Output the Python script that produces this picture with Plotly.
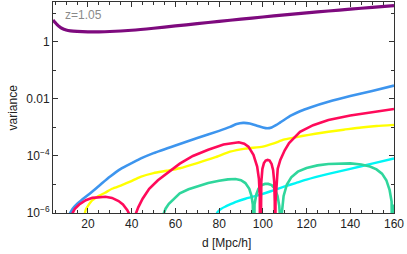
import plotly.graph_objects as go

# ---- data (x in Mpc/h, values given as log10(variance)) ----
purple_x = [4, 5, 6, 7, 8, 10, 12, 15, 20, 25, 30, 40, 50, 60, 70, 80, 90, 100, 110, 120, 130, 140, 150, 160]
purple_log = [0.77, 0.68, 0.6, 0.53, 0.48, 0.42, 0.39, 0.37, 0.355, 0.355, 0.365, 0.41, 0.48, 0.56, 0.64, 0.72,
              0.80, 0.875, 0.95, 1.02, 1.085, 1.15, 1.21, 1.27]

blue_x = [11.5, 13, 15, 17, 20, 25, 30, 35, 40, 45, 50, 60, 70, 80, 85, 88, 91, 94, 97, 100, 102, 104, 106,
          108, 110, 113, 117, 122, 130, 140, 150, 160]
blue_log = [-6.05, -5.85, -5.68, -5.55, -5.37, -5.05, -4.73, -4.45, -4.25, -4.06, -3.9, -3.63, -3.37, -3.12,
            -2.98, -2.88, -2.84, -2.86, -2.93, -3.0, -3.03, -3.0, -2.92, -2.82, -2.72, -2.58, -2.43, -2.29,
            -2.1, -1.9, -1.72, -1.53]

magenta_x = [12.3, 14, 16, 19, 22, 25, 28, 31, 34, 36, 38, 39.3, 39.9, 40.4, 40.9, 41.5, 43, 45, 48, 52, 57,
             62, 68, 75, 82, 86, 89, 91.5, 93.4, 95.7, 97.4, 98.2, 98.6, 98.8, 99.0, 99.3, 99.8, 100.5, 101.3,
             102.2, 103.1, 104.0, 104.7, 105.2, 105.45, 105.6, 105.8, 106.2, 106.8, 108, 110, 112, 117, 123,
             130, 140, 150, 160]
magenta_log = [-6.1, -5.85, -5.7, -5.55, -5.47, -5.44, -5.43, -5.47, -5.58, -5.7, -5.9, -6.1, -6.5, -9, -6.5,
               -6.1, -5.8, -5.5, -5.15, -4.85, -4.55, -4.27, -4.0, -3.78, -3.6, -3.54, -3.52, -3.57, -3.67,
               -3.96, -4.37, -4.8, -5.4, -9, -5.4, -4.9, -4.45, -4.25, -4.16, -4.14, -4.16, -4.28, -4.5,
               -4.9, -5.6, -9, -5.6, -4.9, -4.45, -4.14, -3.8, -3.55, -3.15, -2.92, -2.74, -2.58, -2.46, -2.35]

yellow_x = [18.3, 19, 20, 22, 25, 27.8, 31, 35.5, 39.3, 44, 50, 56, 62, 70, 78, 85, 92, 100, 105, 109.5, 114,
            118, 124, 130, 137, 145, 152, 160]
yellow_log = [-6.1, -5.88, -5.75, -5.55, -5.4, -5.29, -5.15, -5.02, -4.9, -4.73, -4.6, -4.52, -4.43, -4.25,
              -4.05, -3.85, -3.74, -3.67, -3.56, -3.43, -3.36, -3.3, -3.22, -3.15, -3.08, -3.0, -2.95, -2.91]

green_x = [54.0, 55.5, 57, 59, 62, 66, 70, 75, 80, 84, 87.5, 90, 92, 93.8, 94.8, 95.4, 95.8, 96.2, 97, 98,
           99.5, 101, 102.5, 104, 105.5, 106.7, 107.5, 108, 108.3, 108.7, 109.5, 111, 113, 116, 120, 125,
           130, 135, 140, 145, 149, 152, 154.5, 156.5, 158, 158.9, 159.4, 159.9, 160]
green_log = [-6.15, -5.85, -5.68, -5.52, -5.31, -5.17, -5.07, -4.95, -4.87, -4.82, -4.81, -4.85, -4.95, -5.15,
             -5.4, -5.7, -9, -5.7, -5.35, -5.15, -5.02, -4.98, -4.98, -5.02, -5.15, -5.4, -5.75, -6.3, -9,
             -6.0, -5.4, -5.0, -4.75, -4.55, -4.42, -4.33, -4.28, -4.26, -4.26, -4.3, -4.37, -4.47, -4.62,
             -4.85, -5.2, -5.6, -9, -5.8, -5.7]

cyan_x = [78.3, 79.5, 81, 83, 85, 88, 92, 96, 100, 105, 110, 115, 120, 130, 140, 150, 160]
cyan_log = [-6.1, -5.95, -5.85, -5.77, -5.7, -5.6, -5.5, -5.42, -5.33, -5.2, -5.07, -4.95, -4.83, -4.63,
            -4.45, -4.27, -4.09]

y_tickvals = [1e-6, 1e-4, 1e-2, 1]
y_ticktext = ["10<sup>−6</sup>", "10<sup>−4</sup>", "0.01", "1"]
y_minor_tickvals = [1e-5, 1e-3, 1e-1, 10]
x_tickvals = [20, 40, 60, 80, 100, 120, 140, 160]
label_text = "z=1.05"
x_title = "d [Mpc/h]"
y_title = "variance"

series = [
    (purple_x, purple_log, "#7e0a7e", 3.2, "spline"),
    (blue_x, blue_log, "#3d95ee", 2.6, "spline"),
    (yellow_x, yellow_log, "#ffff00", 2.4, "spline"),
    (cyan_x, cyan_log, "#00f5f5", 2.4, "spline"),
    (green_x, green_log, "#2fd69c", 2.6, "linear"),
    (magenta_x, magenta_log, "#ff0a5a", 2.6, "linear"),
]

fig = go.Figure()
for xs, ls, col, w, shp in series:
    fig.add_trace(go.Scatter(x=xs, y=[10 ** v for v in ls], mode="lines",
                             line=dict(color=col, width=w, shape=shp, smoothing=0.6),
                             hoverinfo="skip", showlegend=False))

font = "Liberation Sans, Arial, sans-serif"
fig.update_layout(
    width=407, height=254,
    margin=dict(l=53, r=13, t=2, b=41),
    plot_bgcolor="white", paper_bgcolor="white",
    font=dict(family=font, size=12, color="#222"),
    showlegend=False,
)
fig.update_xaxes(range=[4, 160], tickvals=x_tickvals, ticks="inside", ticklen=5, tickwidth=1,
                 tickcolor="#333", showline=True, linecolor="#333", linewidth=1, mirror="ticks",
                 showgrid=False, zeroline=False, tickfont=dict(size=12, color="#222"),
                 minor=dict(dtick=5, tick0=0, ticks="inside", ticklen=3, tickcolor="#333", showgrid=False))
fig.update_yaxes(type="log", range=[-6, 1.4], tickvals=y_tickvals, ticktext=y_ticktext, ticks="inside",
                 ticklen=5, tickwidth=1, tickcolor="#333", showline=True, linecolor="#333", linewidth=1,
                 mirror="ticks", showgrid=False, zeroline=False, tickfont=dict(size=12, color="#222"),
                 minor=dict(tickvals=y_minor_tickvals, ticks="inside", ticklen=3, tickcolor="#333",
                            showgrid=False))

fig.add_annotation(text=label_text, xref="paper", yref="paper", x=0.03, y=0.94, xanchor="left",
                   yanchor="middle", showarrow=False, font=dict(size=12, color="#8a8a8a"))
fig.add_annotation(text=y_title, xref="paper", yref="paper", x=0, y=0.5, xshift=-41, textangle=-90,
                   xanchor="center", yanchor="middle", showarrow=False, font=dict(size=12, color="#222"))
fig.add_annotation(text=x_title, xref="paper", yref="paper", x=0.51, y=0, yshift=-30, xanchor="center",
                   yanchor="middle", showarrow=False, font=dict(size=12, color="#222"))

fig.write_html("out.html", config={"displayModeBar": False, "staticPlot": True},
               post_script="document.body.style.margin='0';")
